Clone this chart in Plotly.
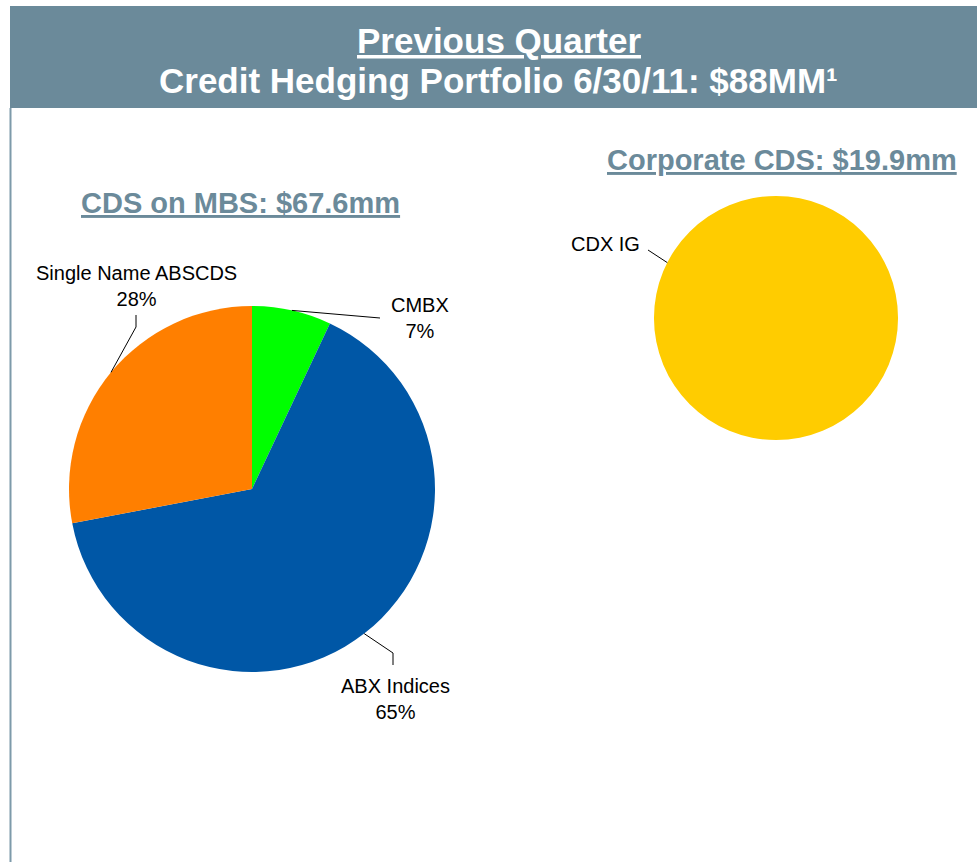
import math
import plotly.graph_objects as go

# ---- data ----
mbs_labels = ["CMBX", "ABX Indices", "Single Name ABSCDS"]
mbs_values = [7, 65, 28]
mbs_colors = ["#00FF00", "#0057A6", "#FF7F00"]

corp_labels = ["CDX IG"]
corp_values = [19.9]
corp_colors = ["#FFCC00"]

title_line1 = "Previous Quarter"
title_line2 = "Credit Hedging Portfolio 6/30/11: $88MM\u00b9"
mbs_title = "CDS on MBS: $67.6mm"
corp_title = "Corporate CDS: $19.9mm"

# ---- layout helpers (page pixel -> paper) ----
W, H = 977, 862
def px(x):
    return x / W
def py(y):
    return 1 - y / H

FONT = "Liberation Sans, Arial, sans-serif"
SLATE = "#6B8A9A"

# pie geometry in pixels
L_CX, L_CY, L_R = 252, 489, 183
R_CX, R_CY, R_R = 776, 318, 122

fig = go.Figure()

fig.add_trace(go.Pie(
    labels=mbs_labels, values=mbs_values, sort=False, direction="clockwise",
    rotation=0, marker=dict(colors=mbs_colors, line=dict(width=0)),
    textinfo="none", hoverinfo="label+percent", showlegend=False,
    domain=dict(x=[px(L_CX - L_R), px(L_CX + L_R)], y=[py(L_CY + L_R), py(L_CY - L_R)]),
))
fig.add_trace(go.Pie(
    labels=corp_labels, values=corp_values, sort=False, direction="clockwise",
    marker=dict(colors=corp_colors, line=dict(width=0)),
    textinfo="none", hoverinfo="label+percent", showlegend=False,
    domain=dict(x=[px(R_CX - R_R), px(R_CX + R_R)], y=[py(R_CY + R_R), py(R_CY - R_R)]),
))

shapes = []
# header band
shapes.append(dict(type="rect", xref="paper", yref="paper",
                   x0=px(10), x1=1, y0=py(108), y1=py(6),
                   fillcolor=SLATE, line=dict(width=0), layer="below"))
# left border line
shapes.append(dict(type="line", xref="paper", yref="paper",
                   x0=px(10.5), x1=px(10.5), y0=py(108), y1=0,
                   line=dict(color="#7D9AAA", width=2)))

def ann(text, x, y, size, color, **kw):
    d = dict(text=text, x=px(x), y=py(y), xref="paper", yref="paper",
             showarrow=False, xanchor="center", yanchor="middle",
             font=dict(family=FONT, size=size, color=color))
    d.update(kw)
    return d

annotations = []
annotations.append(ann("<b><u>%s</u></b>" % title_line1, 499, 40, 35, "white"))
annotations.append(ann("<b>%s</b>" % title_line2, 498, 80, 35, "white"))
annotations.append(ann("<b><u>%s</u></b>" % mbs_title, 240, 203, 29, SLATE))
annotations.append(ann("<b><u>%s</u></b>" % corp_title, 782, 160, 29, SLATE))

# slice labels + leader lines (edge point from mid-angle of each slice)
total = sum(mbs_values)
label_pos = {  # label text centre, elbow points of leader
    "CMBX": dict(text_xy=(420, 318), path=[(380, 318)]),
    "ABX Indices": dict(text_xy=(395, 699), path=[(393, 653), (393, 665)]),
    "Single Name ABSCDS": dict(text_xy=(136, 286), path=[(136, 327), (136, 315)]),
}
cum = 0
for lab, val in zip(mbs_labels, mbs_values):
    mid = (cum + val / 2) / total * 2 * math.pi
    cum += val
    ex = L_CX + L_R * math.sin(mid)
    ey = L_CY - L_R * math.cos(mid)
    pts = [(ex, ey)] + label_pos[lab]["path"]
    path = "M " + " L ".join("%f,%f" % (px(x), py(y)) for x, y in pts)
    shapes.append(dict(type="path", xref="paper", yref="paper", path=path,
                       line=dict(color="black", width=1)))
    tx, ty = label_pos[lab]["text_xy"]
    pct = round(val / total * 100)
    annotations.append(ann("%s<br>%d%%" % (lab, pct), tx, ty, 20, "black"))

# corporate label
ang = math.radians(297)
ex = R_CX + R_R * math.sin(ang)
ey = R_CY - R_R * math.cos(ang)
shapes.append(dict(type="line", xref="paper", yref="paper",
                   x0=px(ex), y0=py(ey), x1=px(648), y1=py(250),
                   line=dict(color="black", width=1)))
annotations.append(ann(corp_labels[0], 605, 244, 20, "black"))

fig.update_layout(
    width=W, height=H, margin=dict(l=0, r=0, t=0, b=0),
    paper_bgcolor="white", plot_bgcolor="white",
    shapes=shapes, annotations=annotations,
)

fig.write_html("out.html", config={"displayModeBar": False},
               post_script="document.body.style.margin='0';document.body.style.overflow='hidden';")
